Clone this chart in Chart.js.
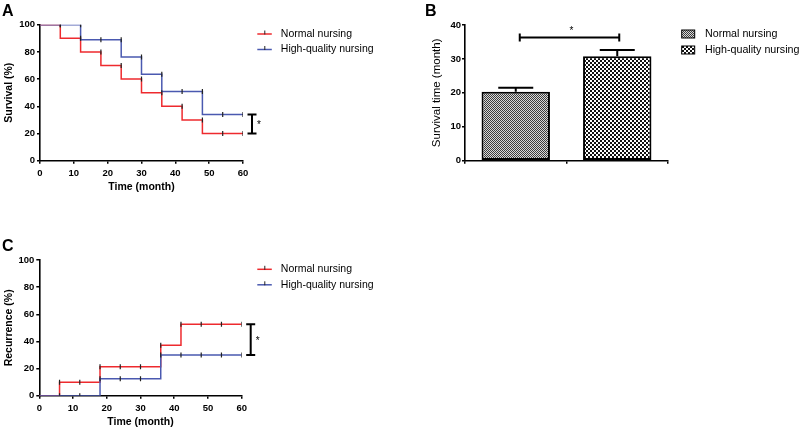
<!DOCTYPE html>
<html>
<head>
<meta charset="utf-8">
<script src="https://cdn.jsdelivr.net/npm/chart.js@4"></script>
<style>
  body { margin: 0; background: #fff; }
  #wrap { position: relative; width: 800px; height: 427px; overflow: hidden; }
  canvas { position: absolute; }
</style>
</head>
<body>
<div id="wrap">
  <canvas id="chart_a" width="400" height="205" style="left:0;top:0"></canvas>
  <canvas id="chart_b" width="400" height="205" style="left:400px;top:0"></canvas>
  <canvas id="chart_c" width="400" height="212" style="left:0;top:215px"></canvas>
</div>
<script>
// data
const months = [0, 6, 12, 18, 24, 30, 36, 42, 48, 54, 60];
const survivalNormal = [100, 90, 80, 70, 60, 50, 40, 30, 20, 20, 20];
const survivalHigh = [100, 100, 88.9, 88.9, 76.2, 63.5, 50.8, 50.8, 33.9, 33.9, 33.9];
const recurNormal = [0, 10, 10, 21.4, 21.4, 21.4, 37.1, 52.6, 52.6, 52.6, 52.6];
const recurHigh = [0, 0, 0, 12.4, 12.4, 12.4, 30, 30, 30, 30, 30];
const groups = ["Normal nursing", "High-quality nursing"];
const survivalTime = [20.3, 30.8];
const survivalTimeErr = [1.2, 1.8];

const RED = "#ee2a2e";
const BLUE = "#4a59b0";
const FONT = "'Liberation Sans', Arial, sans-serif";

Chart.defaults.font.family = FONT;
Chart.defaults.color = "#000";
Chart.defaults.animation = false;

const toPoints = (ys) => months.map((m, i) => ({ x: m, y: ys[i] }));
// censor ticks sit on the upper level of every step
const toCensor = (ys) => months.slice(1).map((m, i) => ({ x: m, y: Math.max(ys[i], ys[i + 1]) }));

const axisLine = { color: "#000", width: 1.6 };
const axisGrid = { drawOnChartArea: false, color: "#000", lineWidth: 1.5, tickLength: 3 };
const tickFont = { size: 9.5, weight: "bold" };

const timeAxis = (height, titlePad) => ({
  type: "linear",
  min: 0,
  max: 60,
  afterFit: (s) => { s.height = height; },
  border: axisLine,
  grid: axisGrid,
  ticks: { stepSize: 10, padding: 4, font: tickFont, maxRotation: 0 },
  title: {
    display: true,
    text: "Time (month)",
    font: { size: 10.5, weight: "bold", lineHeight: 1 },
    padding: { top: 0, bottom: titlePad },
  },
});

const pctAxis = (width, text) => ({
  min: 0,
  max: 100,
  afterFit: (s) => { s.width = width; },
  border: axisLine,
  grid: axisGrid,
  ticks: { stepSize: 20, padding: 2, font: tickFont },
  title: {
    display: true,
    text: text,
    font: { size: 10.5, weight: "bold", lineHeight: 1 },
    padding: { top: 4, bottom: 0 },
  },
});

const kmDatasets = (normal, high) => [
  { label: groups[0], data: toPoints(normal), borderColor: RED, borderWidth: 1.5, stepped: true, pointRadius: 0, order: 2 },
  { label: groups[1], data: toPoints(high), borderColor: BLUE, borderWidth: 1.5, stepped: true, pointRadius: 0, order: 1 },
  { data: toCensor(normal), showLine: false, pointStyle: "line", pointRotation: 90, pointRadius: 2.5, pointBorderColor: "#222", pointBorderWidth: 1.2, order: 0 },
  { data: toCensor(high), showLine: false, pointStyle: "line", pointRotation: 90, pointRadius: 2.5, pointBorderColor: "#222", pointBorderWidth: 1.2, order: 0 },
];

const drawLetter = (ctx, letter, x, y) => {
  ctx.save();
  ctx.fillStyle = "#000";
  ctx.font = "bold 16px " + FONT;
  ctx.textBaseline = "alphabetic";
  ctx.fillText(letter, x, y);
  ctx.restore();
};

const drawKmLegend = (ctx, x, y) => {
  ctx.save();
  [RED, BLUE].forEach((color, i) => {
    const yy = y + i * 15.5;
    ctx.strokeStyle = color;
    ctx.lineWidth = 1.5;
    ctx.beginPath();
    ctx.moveTo(x, yy);
    ctx.lineTo(x + 14.5, yy);
    ctx.stroke();
    ctx.strokeStyle = "#222";
    ctx.lineWidth = 1;
    ctx.beginPath();
    ctx.moveTo(x + 7.5, yy - 3.5);
    ctx.lineTo(x + 7.5, yy + 0.5);
    ctx.stroke();
    ctx.fillStyle = "#000";
    ctx.font = "10.5px " + FONT;
    ctx.textBaseline = "middle";
    ctx.fillText(groups[i], x + 23.5, yy);
  });
  ctx.restore();
};

// vertical significance bracket with a star
const drawSigBracket = (ctx, x, y1, y2) => {
  ctx.save();
  ctx.strokeStyle = "#000";
  ctx.lineWidth = 2;
  ctx.beginPath();
  ctx.moveTo(x, y1);
  ctx.lineTo(x, y2);
  ctx.moveTo(x - 4.5, y1);
  ctx.lineTo(x + 4.5, y1);
  ctx.moveTo(x - 4.5, y2);
  ctx.lineTo(x + 4.5, y2);
  ctx.stroke();
  ctx.fillStyle = "#000";
  ctx.font = "10px " + FONT;
  ctx.textAlign = "left";
  ctx.textBaseline = "middle";
  ctx.fillText("*", x + 5, (y1 + y2) / 2 + 1.5);
  ctx.restore();
};

const kmDecor = (letter, letterY, legendY, highArr, normalArr) => ({
  id: "kmDecor" + letter,
  afterDraw(chart) {
    const { ctx, chartArea, scales } = chart;
    drawLetter(ctx, letter, 2, letterY);
    drawKmLegend(ctx, 257.3, legendY);
    const y1 = scales.y.getPixelForValue(highArr[highArr.length - 1]);
    const y2 = scales.y.getPixelForValue(normalArr[normalArr.length - 1]);
    drawSigBracket(ctx, chartArea.right + 9, Math.min(y1, y2), Math.max(y1, y2));
  },
});

// panel A
new Chart(document.getElementById("chart_a"), {
  type: "line",
  data: { datasets: kmDatasets(survivalNormal, survivalHigh) },
  options: {
    responsive: false,
    layout: { padding: { top: 24.7, right: 157, left: 0, bottom: 0 } },
    plugins: { legend: { display: false }, tooltip: { enabled: false } },
    scales: {
      x: timeAxis(44.3, 13),
      y: pctAxis(40, "Survival (%)"),
    },
  },
  plugins: [kmDecor("A", 15.5, 34, survivalHigh, survivalNormal)],
});

// panel C
new Chart(document.getElementById("chart_c"), {
  type: "line",
  data: { datasets: kmDatasets(recurNormal, recurHigh) },
  options: {
    responsive: false,
    layout: { padding: { top: 45, right: 158.3, left: 0, bottom: 0 } },
    plugins: { legend: { display: false }, tooltip: { enabled: false } },
    scales: {
      x: timeAxis(31.3, 0),
      y: pctAxis(39.3, "Recurrence (%)"),
    },
  },
  plugins: [kmDecor("C", 35.5, 54.3, recurHigh, recurNormal)],
});

// panel B patterns
const makePattern = (cell, dark, light) => {
  const c = document.createElement("canvas");
  c.width = c.height = cell * 2;
  const g = c.getContext("2d");
  g.fillStyle = light;
  g.fillRect(0, 0, cell * 2, cell * 2);
  g.fillStyle = dark;
  g.fillRect(0, 0, cell, cell);
  g.fillRect(cell, cell, cell, cell);
  return g.createPattern(c, "repeat");
};
const patterns = [makePattern(1, "#3c3c3c", "#d8d8d8"), makePattern(2, "#111", "#fff")];

const barDecor = {
  id: "barDecor",
  afterDatasetsDraw(chart) {
    const { ctx, scales } = chart;
    const bars = chart.getDatasetMeta(0).data;
    ctx.save();
    ctx.strokeStyle = "#000";
    ctx.lineWidth = 2;
    // error bars (upper only)
    bars.forEach((bar, i) => {
      const yTop = scales.y.getPixelForValue(survivalTime[i] + survivalTimeErr[i]);
      ctx.beginPath();
      ctx.moveTo(bar.x, bar.y);
      ctx.lineTo(bar.x, yTop);
      ctx.moveTo(bar.x - 17.5, yTop);
      ctx.lineTo(bar.x + 17.5, yTop);
      ctx.stroke();
    });
    // significance bracket
    const yb = scales.y.getPixelForValue(36.3);
    const xa = bars[0].x + 4;
    const xb = bars[1].x + 2;
    ctx.beginPath();
    ctx.moveTo(xa, yb);
    ctx.lineTo(xb, yb);
    ctx.moveTo(xa, yb - 4);
    ctx.lineTo(xa, yb + 4);
    ctx.moveTo(xb, yb - 4);
    ctx.lineTo(xb, yb + 4);
    ctx.stroke();
    ctx.fillStyle = "#000";
    ctx.font = "10px " + FONT;
    ctx.textAlign = "center";
    ctx.textBaseline = "middle";
    ctx.fillText("*", (xa + xb) / 2 + 2, yb - 6);
    ctx.restore();
  },
  afterDraw(chart) {
    const { ctx } = chart;
    drawLetter(ctx, "B", 25, 15.5);
    ctx.save();
    groups.forEach((g, i) => {
      const yy = 34 + i * 16;
      ctx.fillStyle = patterns[i];
      ctx.fillRect(281.7, yy - 4, 13, 8);
      ctx.strokeStyle = "#000";
      ctx.lineWidth = 1;
      ctx.strokeRect(281.7, yy - 4, 13, 8);
      ctx.fillStyle = "#000";
      ctx.font = "10.7px " + FONT;
      ctx.textBaseline = "middle";
      ctx.fillText(g, 305, yy);
    });
    ctx.restore();
  },
};

new Chart(document.getElementById("chart_b"), {
  type: "bar",
  data: {
    labels: groups,
    datasets: [
      {
        data: survivalTime,
        backgroundColor: patterns,
        borderColor: "#000",
        borderWidth: 2,
        borderSkipped: false,
        categoryPercentage: 1,
        barPercentage: 0.674,
      },
    ],
  },
  options: {
    responsive: false,
    layout: { padding: { top: 25, right: 132, left: 0, bottom: 0 } },
    plugins: { legend: { display: false }, tooltip: { enabled: false } },
    scales: {
      x: {
        afterFit: (s) => { s.height = 44.3; },
        border: axisLine,
        grid: { ...axisGrid, offset: true },
        ticks: { display: false },
      },
      y: {
        min: 0,
        max: 40,
        afterFit: (s) => { s.width = 65; },
        border: axisLine,
        grid: axisGrid,
        ticks: { stepSize: 10, padding: 1, font: tickFont },
        title: {
          display: true,
          text: "Survival time (month)",
          font: { size: 11.5, lineHeight: 1 },
          padding: { top: 31, bottom: 0 },
        },
      },
    },
  },
  plugins: [barDecor],
});
</script>
</body>
</html>
